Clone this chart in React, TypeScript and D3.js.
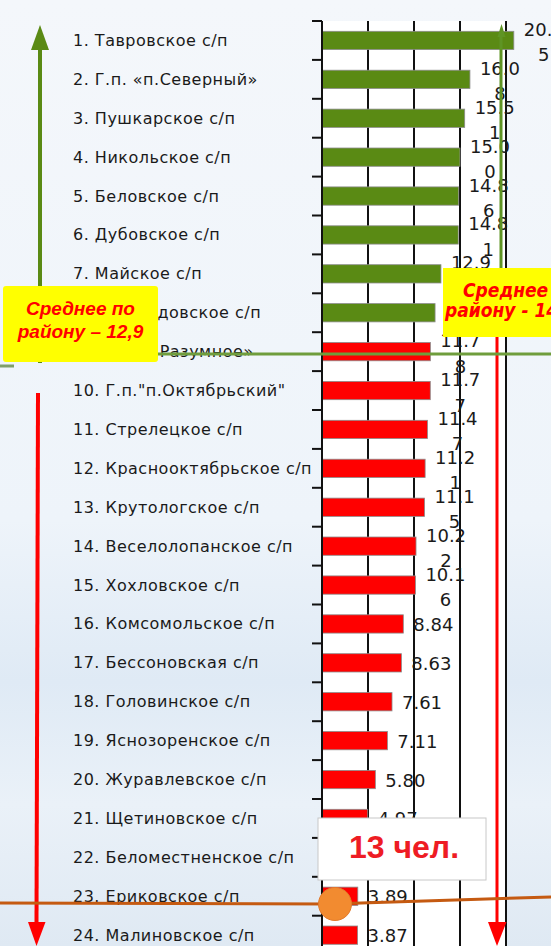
import React, { useEffect } from "react";
import * as d3 from "d3";

// settlements, ranked
const names = [
  "1. Тавровское с/п",
  "2. Г.п. «п.Северный»",
  "3. Пушкарское с/п",
  "4. Никольское с/п",
  "5. Беловское с/п",
  "6. Дубовское с/п",
  "7. Майское с/п",
  "8. Новосадовское с/п",
  "9. Г.п. «п.Разумное»",
  "10. Г.п.\"п.Октябрьский\"",
  "11. Стрелецкое с/п",
  "12. Краснооктябрьское с/п",
  "13. Крутологское с/п",
  "14. Веселолопанское с/п",
  "15. Хохловское с/п",
  "16. Комсомольское с/п",
  "17. Бессоновская с/п",
  "18. Головинское с/п",
  "19. Яснозоренское с/п",
  "20. Журавлевское с/п",
  "21. Щетиновское с/п",
  "22. Беломестненское с/п",
  "23. Ериковское с/п",
  "24. Малиновское с/п",
];

const values = [
  20.85, 16.08, 15.51, 15.0, 14.86, 14.81, 12.93, 12.29, 11.78, 11.77, 11.47,
  11.21, 11.15, 10.22, 10.16, 8.84, 8.63, 7.61, 7.11, 5.8, 4.97, 4.25, 3.89,
  3.87,
];

// first eight are above the district mean
const highCount = 8;
const gridTicks = [5, 10, 15, 20];
const leftMean = ["Среднее по", "району – 12,9"];
const rightMean = ["Среднее по", "району - 14,1"];
const callout = "13 чел.";

const W = 551;
const H = 946;

const GREEN = "#5a8a14";
const RED = "#ff0000";

function splitLabel(v: number) {
  const s = v.toFixed(2);
  return s.length > 4 ? [s.slice(0, 4), s.slice(4)] : [s];
}

export default function App() {
  useEffect(() => {
    document.body.style.margin = "0";
  }, []);

  const x = d3.scaleLinear().domain([0, 20]).range([322, 506]);
  const y = d3
    .scaleBand<string>()
    .domain(names)
    .range([21, 21 + 38.9 * names.length])
    .paddingInner(0.53)
    .paddingOuter(0.265);

  const step = y.step();
  const bw = y.bandwidth();
  const boundaries = d3.range(names.length + 1).map((k) => 21 + k * step);

  const labelFont = "'DejaVu Sans', Verdana, sans-serif";

  return (
    <svg width={W} height={H} style={{ display: "block" }}>
      <defs>
        <linearGradient id="bg" x1="0" y1="0" x2="0" y2="1">
          <stop offset="0" stopColor="#f4f7fb" />
          <stop offset="0.55" stopColor="#eef4fa" />
          <stop offset="0.72" stopColor="#dfeaf5" />
          <stop offset="0.85" stopColor="#eaf1f8" />
          <stop offset="1" stopColor="#dfe9f3" />
        </linearGradient>
      </defs>
      <rect width={W} height={H} fill="url(#bg)" />
      <rect x={x(0)} y={21} width={x(20) - x(0)} height={H - 21} fill="#ffffff" />

      {/* grid */}
      {gridTicks.map((t) => (
        <line key={t} x1={x(t)} x2={x(t)} y1={21} y2={H} stroke="#111" strokeWidth={2} />
      ))}

      {/* bars */}
      {names.map((n, i) => (
        <rect
          key={n}
          x={x(0)}
          y={y(n)}
          width={x(values[i]) - x(0)}
          height={bw}
          fill={i < highCount ? GREEN : RED}
          stroke="#8c8c8c"
          strokeWidth={0.8}
        />
      ))}

      {/* axis */}
      <line x1={x(0)} x2={x(0)} y1={21} y2={H} stroke="#111" strokeWidth={2} />
      {boundaries.map((b, k) => (
        <line key={k} x1={x(0) - 10} x2={x(0)} y1={b} y2={b} stroke="#111" strokeWidth={2} />
      ))}

      {/* category labels */}
      {names.map((n) => (
        <text
          key={n}
          x={73}
          y={(y(n) as number) + bw / 2 + 5.5}
          fontFamily={labelFont}
          fontSize={16}
          letterSpacing={0.5}
          fill="#1a1a1a"
        >
          {n}
        </text>
      ))}

      {/* value labels */}
      {names.map((n, i) => {
        const parts = splitLabel(values[i]);
        const cx = x(values[i]) + 30;
        const cy = (y(n) as number) + bw / 2;
        return parts.length === 1 ? (
          <text key={n} x={cx} y={cy + 7} textAnchor="middle" fontFamily={labelFont} fontSize={18} fill="#1a1a1a">
            {parts[0]}
          </text>
        ) : (
          <text key={n} textAnchor="middle" fontFamily={labelFont} fontSize={18} fill="#1a1a1a">
            <tspan x={cx} y={cy - 4.5}>{parts[0]}</tspan>
            <tspan x={cx} y={cy + 21}>{parts[1]}</tspan>
          </text>
        );
      })}

      {/* left arrows */}
      <line x1={40} x2={40} y1={48} y2={363} stroke={GREEN} strokeWidth={4} />
      <path d="M40,25 L49,50 L31,50 Z" fill={GREEN} />
      <line x1={38} x2={36.5} y1={393} y2={925} stroke={RED} strokeWidth={4} />
      <path d="M36.5,946 L45.5,922 L28,922 Z" fill={RED} />
      <line x1={0} x2={14} y1={366} y2={366} stroke="#7f9f6a" strokeWidth={3} />

      {/* right arrows */}
      <line x1={501} x2={501} y1={34} y2={268} stroke="#5f9424" strokeWidth={3} />
      <path d="M501.5,24 L505.5,37 L497.5,37 Z" fill="#5f9424" />
      <line x1={497} x2={497} y1={337} y2={925} stroke={RED} strokeWidth={3} />
      <path d="M497,946 L506.5,922 L488,922 Z" fill={RED} />

      {/* district mean line */}
      <line x1={158} x2={W} y1={354} y2={354} stroke="#6f9d3c" strokeWidth={3} />

      {/* mean boxes */}
      <rect x={3} y={286} width={155} height={76} rx={3} fill="#ffff00" />
      <text textAnchor="middle" fontFamily="'Liberation Sans', Arial, sans-serif" fontWeight="bold" fontStyle="italic" fontSize={19} fill={RED}>
        <tspan x={80.5} y={315}>{leftMean[0]}</tspan>
        <tspan x={80.5} y={338}>{leftMean[1]}</tspan>
      </text>
      <rect x={443} y={268} width={140} height={69} fill="#ffff00" />
      <text fontFamily="'DejaVu Sans Condensed', 'DejaVu Sans', sans-serif" fontWeight="bold" fontStyle="italic" fontSize={19} fill={RED}>
        <tspan x={463} y={297}>{rightMean[0]}</tspan>
        <tspan x={445} y={317}>{rightMean[1]}</tspan>
      </text>

      {/* threshold line */}
      <polyline points="0,903 330,904 551,897" fill="none" stroke="#c55a11" strokeWidth={3} />
      <circle cx={335} cy={904} r={16.5} fill="#f28b30" stroke="#e2792a" strokeWidth={1} />

      {/* callout */}
      <rect x={318} y={818} width={168} height={62} fill="#ffffff" stroke="#c8c8c8" strokeWidth={1} />
      <text x={404} y={858} textAnchor="middle" fontFamily="'Liberation Sans', Arial, sans-serif" fontWeight="bold" fontSize={32} fill="#ee1c24">
        {callout}
      </text>
    </svg>
  );
}
